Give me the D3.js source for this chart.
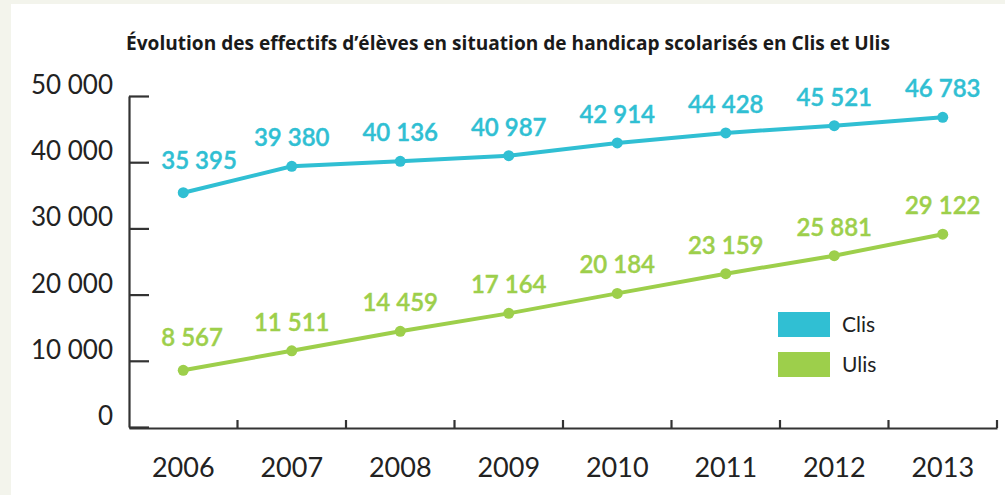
<!DOCTYPE html>
<html>
<head>
<meta charset="utf-8">
<script src="https://cdn.jsdelivr.net/npm/d3@7"></script>
<style>
  body { margin: 0; background: #f3f4ec; }
  svg { display: block; }
</style>
</head>
<body>
<div id="chartDiv"></div>
<script>
var years = ["2006", "2007", "2008", "2009", "2010", "2011", "2012", "2013"];
var clis = [35395, 39380, 40136, 40987, 42914, 44428, 45521, 46783];
var ulis = [8567, 11511, 14459, 17164, 20184, 23159, 25881, 29122];
var yTicks = [0, 10000, 20000, 30000, 40000, 50000];
var seriesNames = ["Clis", "Ulis"];
var seriesColors = ["#30bfd3", "#9dcf4b"];
var title = "Évolution des effectifs d’élèves en situation de handicap scolarisés en Clis et Ulis";

var font = "Lato, 'Open Sans', sans-serif";
var titleFont = "'Open Sans', sans-serif";
var fmt = function(v) { return d3.format(",")(v).replace(/,/g, " "); };

var svg = d3.select("#chartDiv").append("svg")
    .attr("width", 1005)
    .attr("height", 495);

// white panel
svg.append("rect")
    .attr("x", 11).attr("y", 4)
    .attr("width", 994).attr("height", 491)
    .attr("fill", "#ffffff");

var x = d3.scaleBand().domain(years).range([129, 997]).padding(0);
var y = d3.scaleLinear().domain([0, 50000]).range([427, 96]);

svg.append("text")
    .attr("x", 126).attr("y", 50)
    .attr("font-family", titleFont)
    .attr("font-weight", 700)
    .attr("font-size", 19.1)
    .attr("fill", "#1a1a1a")
    .text(title);

// y axis
var yAxis = d3.axisLeft(y)
    .tickValues(yTicks)
    .tickSizeInner(-20)
    .tickSizeOuter(0)
    .tickPadding(16)
    .tickFormat(fmt);

var yG = svg.append("g").attr("transform", "translate(129,0)").call(yAxis);
yG.select(".domain").attr("stroke", "#333").attr("stroke-width", 2.2);
yG.selectAll(".tick line").attr("stroke", "#333").attr("stroke-width", 2.2);
yG.selectAll(".tick text")
    .attr("font-family", font)
    .attr("font-size", 26)
    .attr("fill", "#222")
    .attr("dy", "-0.1em");

// x axis
var xAxis = d3.axisBottom(x).tickSize(0).tickPadding(30);
var xG = svg.append("g").attr("transform", "translate(0,428)").call(xAxis);
xG.select(".domain").attr("stroke", "#333").attr("stroke-width", 2.2);
xG.selectAll(".tick text")
    .attr("font-family", font)
    .attr("font-size", 27)
    .attr("fill", "#222");

// boundary ticks pointing up
xG.selectAll(".bound").data(years).enter().append("line")
    .attr("class", "bound")
    .attr("x1", function(d) { return x(d) + x.bandwidth(); })
    .attr("x2", function(d) { return x(d) + x.bandwidth(); })
    .attr("y1", 0).attr("y2", -8)
    .attr("stroke", "#333").attr("stroke-width", 2.2);

var cx = function(i) { return x(years[i]) + x.bandwidth() / 2; };

[clis, ulis].forEach(function(vals, s) {
    var col = seriesColors[s];
    var line = d3.line()
        .x(function(d, i) { return cx(i); })
        .y(function(d) { return y(d); });

    svg.append("path")
        .datum(vals)
        .attr("d", line)
        .attr("fill", "none")
        .attr("stroke", col)
        .attr("stroke-width", 4);

    svg.selectAll(".pt" + s).data(vals).enter().append("circle")
        .attr("class", "pt" + s)
        .attr("cx", function(d, i) { return cx(i); })
        .attr("cy", function(d) { return y(d); })
        .attr("r", 5.5)
        .attr("fill", col);

    svg.selectAll(".lbl" + s).data(vals).enter().append("text")
        .attr("class", "lbl" + s)
        .attr("x", function(d, i) { return i === 0 ? cx(i) - 22 : cx(i); })
        .attr("y", function(d, i) { return y(d) - (i === 0 ? 24 : 20); })
        .attr("text-anchor", function(d, i) { return i === 0 ? "start" : "middle"; })
        .attr("font-family", font)
        .attr("font-weight", 600)
        .attr("font-size", 24)
        .attr("fill", col)
        .attr("stroke", col)
        .attr("stroke-width", 0.4)
        .text(fmt);
});

// legend
var leg = svg.append("g").attr("transform", "translate(778,312)");
seriesNames.forEach(function(n, i) {
    leg.append("rect")
        .attr("x", 0).attr("y", i * 40)
        .attr("width", 52).attr("height", 25)
        .attr("fill", seriesColors[i]);
    leg.append("text")
        .attr("x", 64).attr("y", i * 40 + 20)
        .attr("font-family", font)
        .attr("font-size", 21)
        .attr("fill", "#222")
        .text(n);
});
</script>
</body>
</html>
